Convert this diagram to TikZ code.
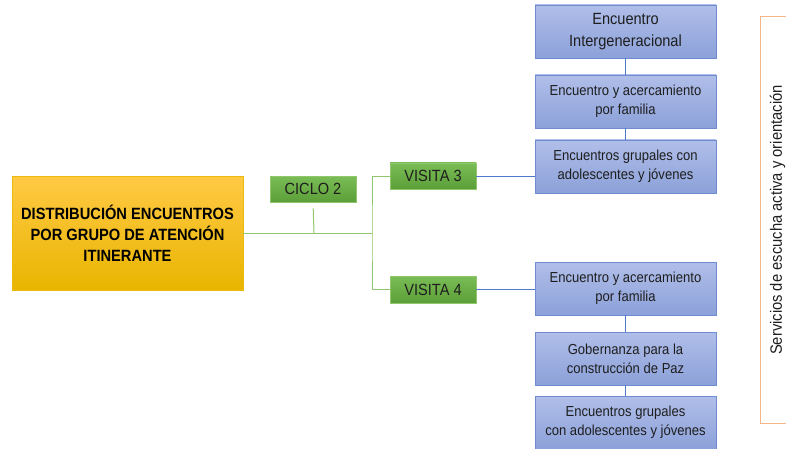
\documentclass[tikz,border=0pt]{standalone}
\usepackage{fontspec}
\setmainfont{Liberation Sans}
\newfontfamily\narrow[FakeStretch=0.9]{Liberation Sans}
\definecolor{yeltop}{HTML}{FFC945}
\definecolor{yelbot}{HTML}{E9B500}
\definecolor{grntop}{HTML}{7ABD56}
\definecolor{grnbot}{HTML}{5C9E38}
\definecolor{grnline}{HTML}{90C66C}
\definecolor{blutop}{HTML}{B0BEE9}
\definecolor{blubot}{HTML}{8CA1D9}
\definecolor{bluedge}{HTML}{6F8BD2}
\definecolor{bluline}{HTML}{4F79C8}
\definecolor{orng}{HTML}{F5B48A}
\definecolor{txt}{HTML}{1E1E1E}
\tikzset{
  yelbox/.style={draw=yelbot!80!yeltop, top color=yeltop, bottom color=yelbot, minimum width=231pt, minimum height=114pt, inner sep=0pt, align=center, text=black, font=\narrow\fontsize{16.3}{21}\selectfont\bfseries},
  grnbox/.style={draw=grnline, line width=0.8pt, top color=grntop, bottom color=grnbot, minimum width=86pt, minimum height=26pt, inner sep=0pt, text=txt, font=\narrow\fontsize{16.2}{19}\selectfont},
  blubox/.style={draw=bluedge, line width=0.8pt, top color=blutop, bottom color=blubot, minimum width=181pt, minimum height=53pt, inner sep=0pt, align=center, text=txt, font=\narrow\fontsize{14.5}{19}\selectfont},
  gline/.style={draw=grnline, line width=1pt},
  bline/.style={draw=bluline, line width=0.8pt},
  oline/.style={draw=orng, line width=1pt}
}
\begin{document}
\begin{tikzpicture}[x=1pt,y=-1pt]
\useasboundingbox (0,0) rectangle (786,449);
\node[yelbox] (main) at (127.5,233) {DISTRIBUCIÓN ENCUENTROS\\POR GRUPO DE ATENCIÓN\\ITINERANTE};
\node[grnbox] (ciclo) at (313,189) {CICLO 2};
\node[grnbox] (v3) at (433,176) {VISITA 3};
\node[grnbox, minimum height=27pt] (v4) at (433,289.5) {VISITA 4};
\node[blubox, font=\narrow\fontsize{16.2}{22}\selectfont] (b1) at (625.5,31.5) {Encuentro\\Intergeneracional};
\node[blubox] (b2) at (625.5,101.5) {Encuentro y acercamiento\\por familia};
\node[blubox] (b3) at (625.5,166.5) {Encuentros grupales con\\adolescentes y jóvenes};
\node[blubox] (b4) at (625.5,288.5) {Encuentro y acercamiento\\por familia};
\node[blubox] (b5) at (625.5,358.5) {Gobernanza para la\\construcción de Paz};
\node[blubox] (b6) at (625.5,422.5) {Encuentros grupales\\con adolescentes y jóvenes};
\coordinate (jn) at (372,233);
\coordinate (cj) at (314,233);
\draw[gline] (main.east) -- (jn);
\draw[gline, shorten <=6pt] (ciclo.south) -- (cj);
\draw[gline] (v3.west) -| (jn) |- (v4.west);
\draw[bline] (v3.east) -- (v3.east -| b3.west);
\draw[bline] (v4.east) -- (v4.east -| b4.west);
\draw[bline] (b1) -- (b2);
\draw[bline] (b2) -- (b3);
\draw[bline] (b4) -- (b5);
\draw[bline] (b5) -- (b6);
\coordinate (bt) at (787,17);
\coordinate (bb) at (787,423);
\coordinate (bl1) at (760,17);
\coordinate (bl2) at (760,423);
\draw[oline] (bt) -- (bl1) -- (bl2) -- (bb);
\node[rotate=90, text=txt, font=\narrow\fontsize{16.4}{18}\selectfont] (serv) at (777.5,220) {Servicios de escucha activa y orientación};
\end{tikzpicture}
\end{document}
